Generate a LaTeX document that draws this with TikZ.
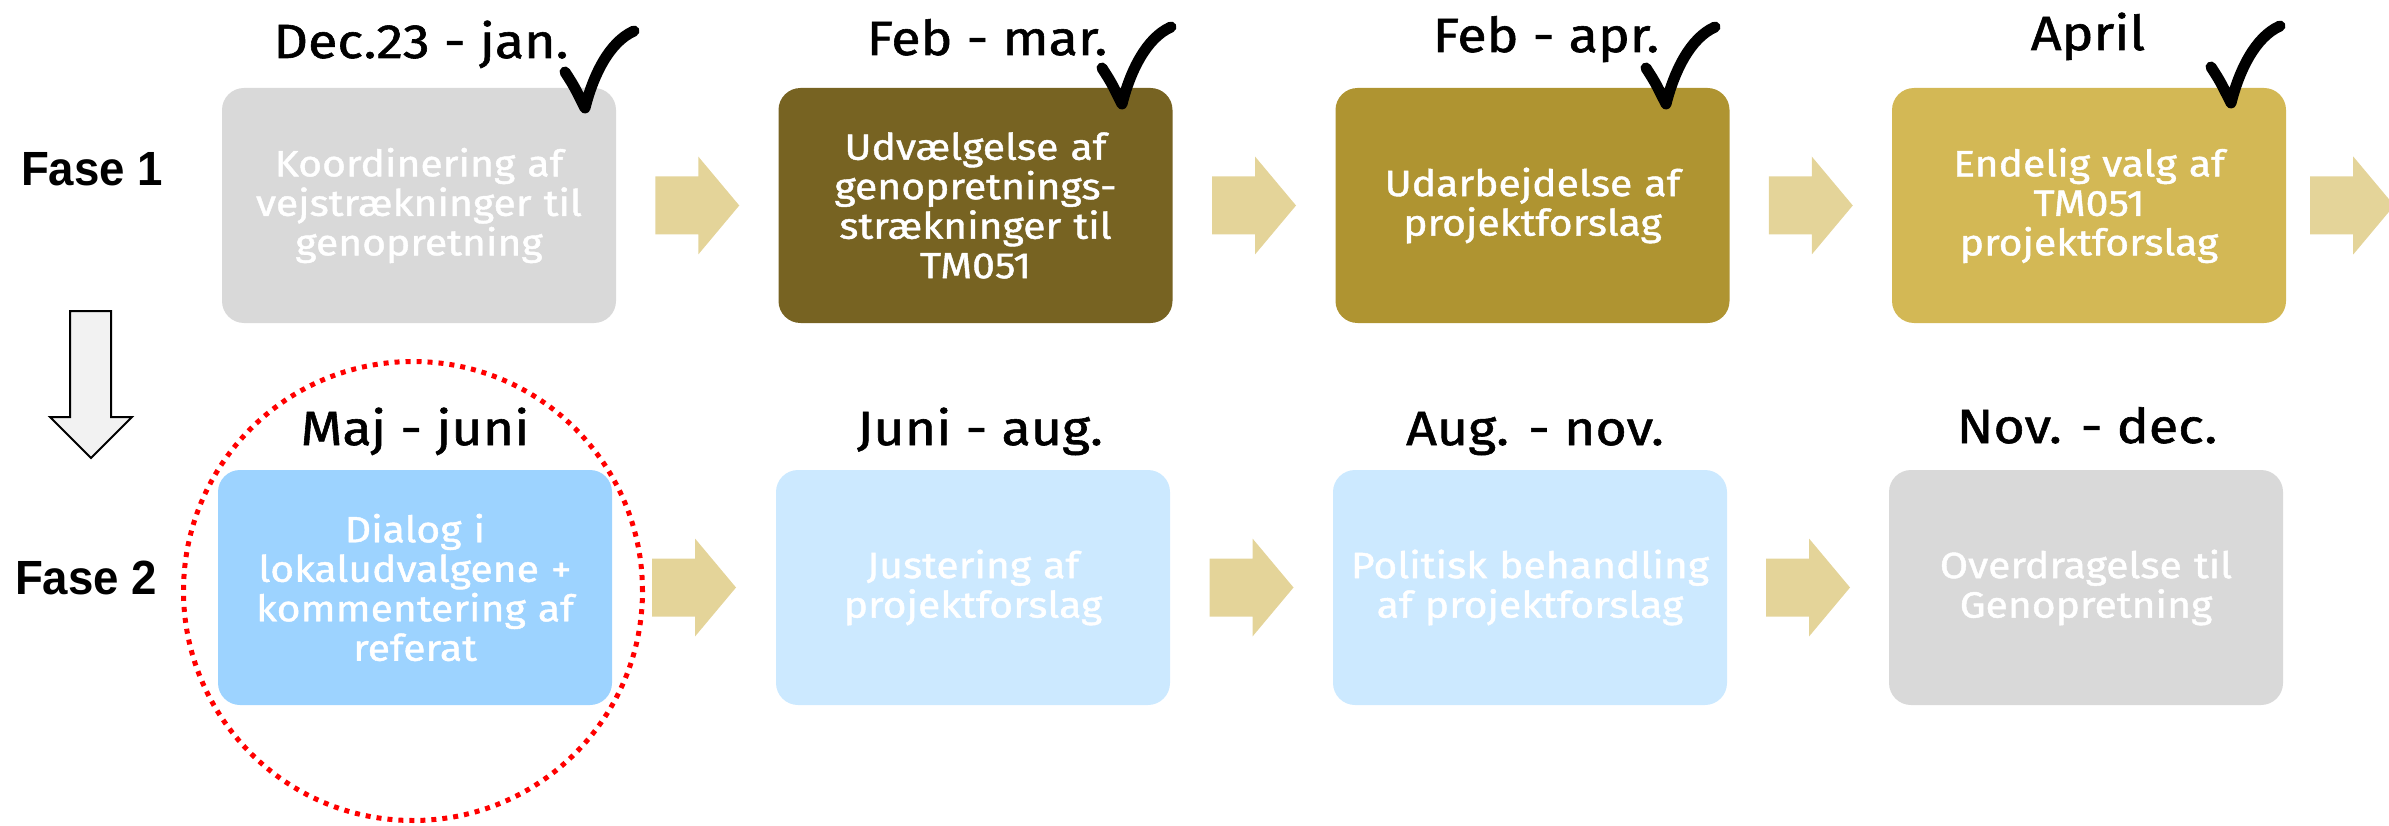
\documentclass[tikz,border=0pt]{standalone}
\usepackage{fontspec}
\setmainfont{Fira Sans}[FakeStretch=1.12, FakeBold=1.2]
\newfontfamily\fasefont{Liberation Sans}[FakeStretch=0.95]
\usetikzlibrary{calc}
\definecolor{boxgrey}{HTML}{D9D9D9}
\definecolor{olivedark}{HTML}{776322}
\definecolor{olivemid}{HTML}{AF9431}
\definecolor{olivelight}{HTML}{D3B855}
\definecolor{bluemid}{HTML}{9DD3FF}
\definecolor{bluelight}{HTML}{CCE9FF}
\definecolor{arrowtan}{HTML}{E4D499}
\definecolor{downfill}{HTML}{F2F2F2}
\tikzset{
  stepbox/.style={rounded corners=22pt, minimum width=394pt, minimum height=235pt,
    text width=390pt, align=center, text=white, inner sep=0pt,
    font=\fontsize{36.5}{39.5}\selectfont},
  datelabel/.style={anchor=base, inner sep=0pt, text=black,
    font=\fontsize{48}{50}\selectfont},
  faselabel/.style={anchor=base, inner sep=0pt, text=black,
    font=\fasefont\bfseries\fontsize{48}{50}\selectfont},
  checkstroke/.style={line width=11pt, line cap=round, line join=round, black},
  tanarrow/.pic={\fill[arrowtan] (-42,-29) -- (1,-29) -- (1,-49) -- (42,0) -- (1,49) -- (1,29) -- (-42,29) -- cycle;},
  checktick/.pic={\draw[checkstroke] (0,0) .. controls (9,14) .. (20,36) .. controls (28,4) and (44,-30) .. (69,-41);}
}
\begin{document}
\begin{tikzpicture}[x=1pt,y=-1pt]
\useasboundingbox (0,0) rectangle (2389,826);
% row 1 boxes
\node[stepbox, fill=boxgrey] (b1) at (419,205.5) {Koordinering af\\vejstrækninger til\\genopretning};
\node[stepbox, fill=olivedark] (b2) at (975.5,205.5) {Udvælgelse af\\genopretnings-\\strækninger til\\TM051};
\node[stepbox, fill=olivemid] (b3) at (1532.5,205.5) {Udarbejdelse af\\projektforslag};
\node[stepbox, fill=olivelight] (b4) at (2089,205.5) {Endelig valg af\\TM051\\projektforslag};
% row 2 boxes
\node[stepbox, fill=bluemid] (b5) at (415,587.5) {Dialog i\\lokaludvalgene +\\kommentering af\\referat};
\node[stepbox, fill=bluelight] (b6) at (973,587.5) {Justering af\\projektforslag};
\node[stepbox, fill=bluelight] (b7) at (1530,587.5) {Politisk behandling\\af projektforslag};
\node[stepbox, fill=boxgrey] (b8) at (2086,587.5) {Overdragelse til\\Genopretning};
% dates
\node[datelabel] (d1) at (421,58) {Dec.23 - jan.};
\node[datelabel] (d2) at (987,55) {Feb - mar.};
\node[datelabel] (d3) at (1546,52) {Feb - apr.};
\node[datelabel] (d4) at (2088,50) {April};
\node[datelabel] (d5) at (415,445) {Maj - juni};
\node[datelabel] (d6) at (980,445) {Juni - aug.};
\node[datelabel] (d7) at (1535,445) {Aug. - nov.};
\node[datelabel] (d8) at (2087,443) {Nov. - dec.};
% phase labels
\node[faselabel] (f1) at (92,186) {Fase 1};
\node[faselabel] (f2) at (86,594) {Fase 2};
% tan arrows
\pic at ($(b1.east)!0.5!(b2.west)$) {tanarrow};
\pic at ($(b2.east)!0.5!(b3.west)$) {tanarrow};
\pic at ($(b3.east)!0.5!(b4.west)$) {tanarrow};
\pic at ($(b4.east)+(66,0)$) {tanarrow};
\pic at ($(b5.east)!0.5!(b6.west)$) {tanarrow};
\pic at ($(b6.east)!0.5!(b7.west)$) {tanarrow};
\pic at ($(b7.east)!0.5!(b8.west)$) {tanarrow};
% check marks
\pic at (565,72) {checktick};
\pic at (1102,68) {checktick};
\pic at (1646,68) {checktick};
\pic at (2211,67) {checktick};
% down arrow
\draw[fill=downfill, line width=2pt, line join=miter] (70,311) -- (111,311) -- (111,417) -- (132,417) -- (91,458) -- (50,417) -- (70,417) -- cycle;
% focus ring
\node[draw=red, circle, minimum size=459pt, inner sep=0pt, line width=5pt, dash pattern=on 5pt off 6pt] (focus) at (413,591) {};
\end{tikzpicture}
\end{document}
